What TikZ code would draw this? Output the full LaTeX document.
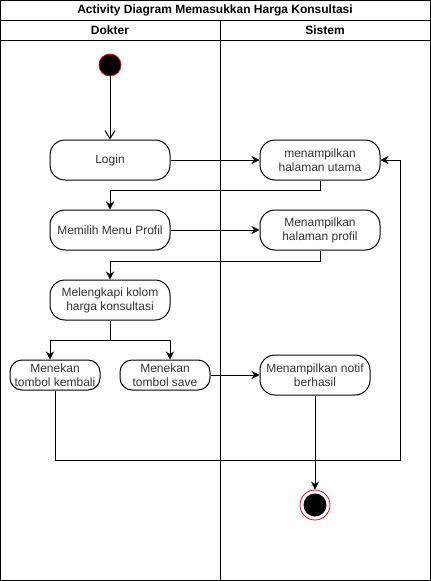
\documentclass[tikz,border=0pt]{standalone}
\usepackage{fontspec}
\setmainfont{Liberation Sans}
\usetikzlibrary{arrows.meta}
\definecolor{txtgray}{HTML}{333333}
\begin{document}
\begin{tikzpicture}[x=1pt,y=-1pt,line width=1pt,
  act/.style={draw, rounded corners=15pt, minimum width=120pt, minimum height=40pt,
    font=\fontsize{12}{14}\selectfont, text=txtgray, align=center, inner sep=0pt},
  smallact/.style={act, rounded corners=12pt, minimum width=90pt, minimum height=30pt},
  hdr/.style={font=\bfseries\fontsize{12}{14}\selectfont, inner sep=0pt},
  arr/.style={-{Stealth[length=8pt,width=8pt,inset=2.5pt]}},
  openarr/.style={-{Straight Barb[length=8pt,width=10pt]}}]
\useasboundingbox (0,0) rectangle (431,581);
% swimlanes
\draw (0.5,0.5) rectangle (430.5,580.5);
\draw (0.5,20) -- (430.5,20);
\draw (0.5,40) -- (430.5,40);
\draw (220,20) -- (220,580.5);
\node[hdr] (title) at (215,10) {Activity Diagram Memasukkan Harga Konsultasi};
\node[hdr] (dokter) at (110,30) {Dokter};
\node[hdr] (sistem) at (325,30) {Sistem};
% start
\node[circle, fill=black, draw=red, line width=0.8pt, minimum size=22pt, inner sep=0pt] (start) at (110,65) {};
% activities
\node[act] (login) at (110,160) {Login};
\node[act] (utama) at (320,160) {menampilkan\\halaman utama};
\node[act] (memilih) at (110,230) {Memilih Menu Profil};
\node[act] (profil) at (320,230) {Menampilkan\\halaman profil};
\node[act] (lengkap) at (110,300) {Melengkapi kolom\\harga konsultasi};
\node[smallact] (kembali) at (55,375) {Menekan\\tombol kembali};
\node[smallact] (save) at (165,375) {Menekan\\tombol save};
\node[act, minimum width=110pt] (notif) at (315,375) {Menampilkan notif\\berhasil};
% end
\node[circle, draw=red, line width=0.8pt, minimum size=30pt, inner sep=0pt] (end) at (315,505) {};
\node[circle, fill=black, minimum size=23pt, inner sep=0pt] (endin) at (315,505) {};
\coordinate (loop) at (400,460);
% connectors
\draw[openarr] (start) -- (login);
\draw[arr] (login) -- (utama);
\draw[arr] (utama.south) -- ++(0,10) -| (memilih.north);
\draw[arr] (memilih) -- (profil);
\draw[arr] (profil.south) -- ++(0,11) -| (lengkap.north);
\draw[arr] (lengkap.south) -- ++(0,20) -| ([xshift=-5pt]kembali.north);
\draw[arr] (lengkap.south) -- ++(0,20) -| ([xshift=5pt]save.north);
\draw[arr] (save) -- (notif);
\draw[arr] (kembali.south) |- (loop) |- (utama.east);
\draw[arr] (notif) -- (end);
\end{tikzpicture}
\end{document}
